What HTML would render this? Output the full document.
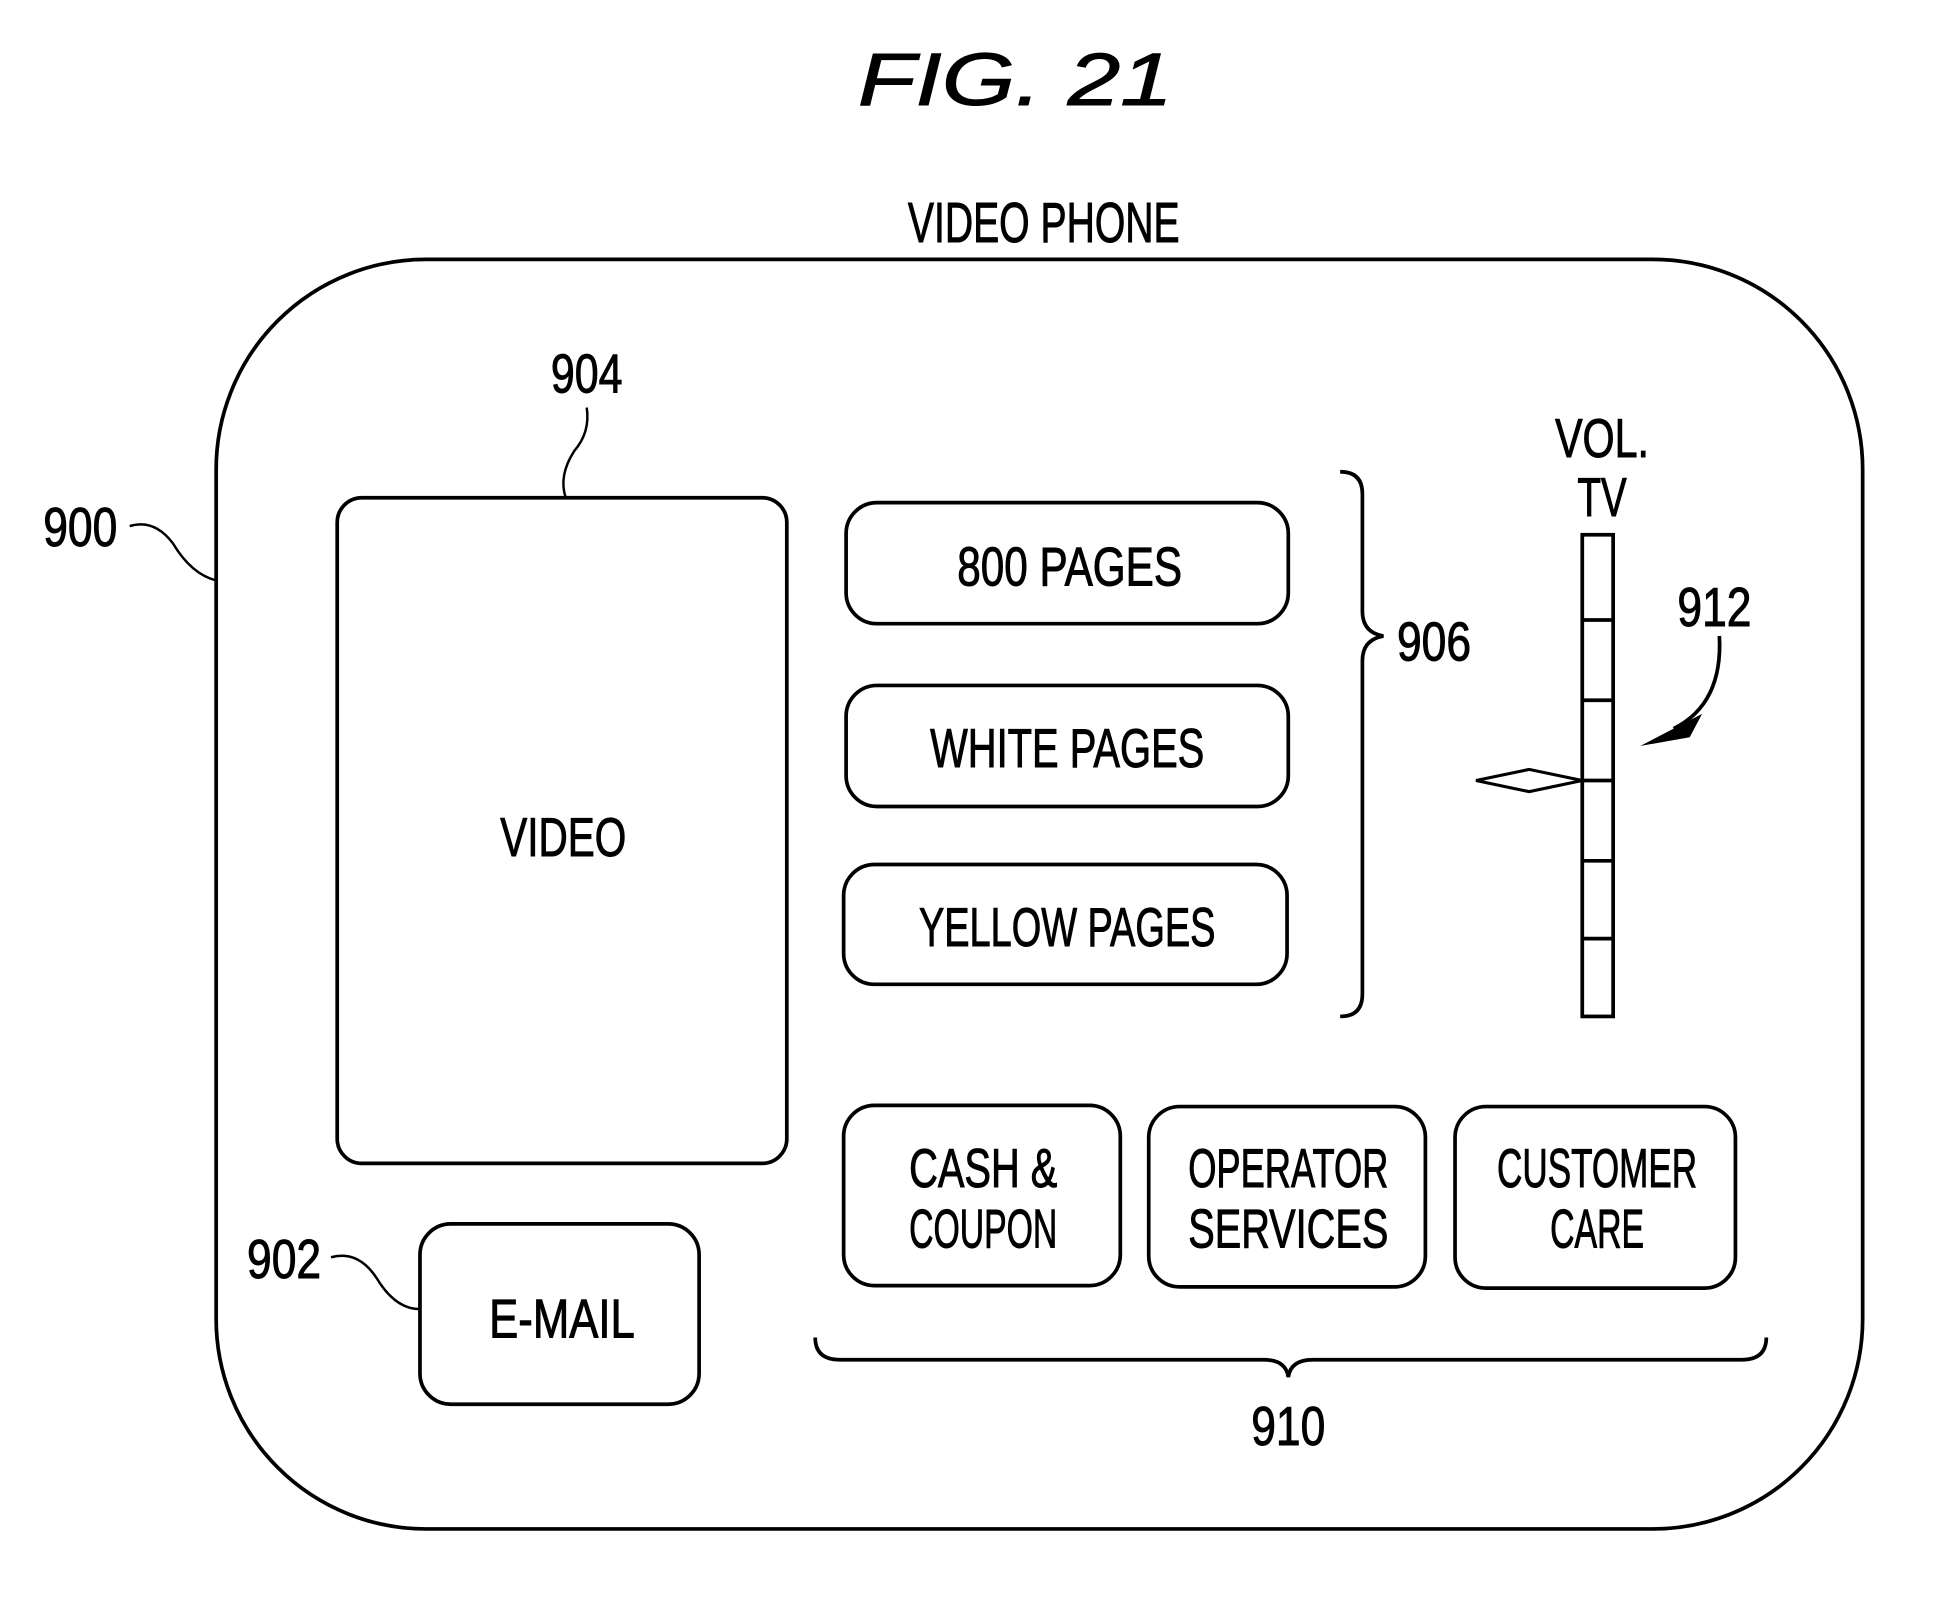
<!DOCTYPE html>
<html><head><meta charset="utf-8"><style>html,body{margin:0;padding:0;background:#fff}svg{display:block}</style></head>
<body>
<svg width="1938" height="1608" viewBox="0 0 1569 1302" preserveAspectRatio="none" xmlns="http://www.w3.org/2000/svg">
<g fill="none" stroke="#000" stroke-width="3">
<rect x="175" y="210" width="1333" height="1028" rx="170" ry="170"/>
<rect x="273" y="403" width="364" height="539" rx="20"/>
<rect x="685" y="407" width="358" height="98" rx="25"/>
<rect x="685" y="555" width="358" height="98" rx="25"/>
<rect x="683" y="700" width="359" height="97" rx="25"/>
<rect x="683" y="895" width="224" height="146" rx="25"/>
<rect x="930" y="896" width="224" height="146" rx="25"/>
<rect x="1178" y="896" width="227" height="147" rx="25"/>
<rect x="340" y="991" width="226" height="146" rx="25"/>
<rect x="1281" y="433" width="25" height="390"/>
<path d="M1281 502H1306M1281 567H1306M1281 632H1306M1281 697H1306M1281 760H1306"/>
<path d="M1195 632L1238 623L1281 632L1238 641Z" stroke-width="2.5"/>
<path d="M1085 382Q1103 382 1103 400V495Q1103 512 1120 515Q1103 518 1103 535V805Q1103 823 1085 823"/>
<path d="M660 1083Q660 1101 680 1101H1023Q1041 1101 1043 1115Q1045 1101 1063 1101H1410Q1430 1101 1430 1083"/>
<path d="M105 426Q125 420 140 440Q155 465 175 470" stroke-width="2"/>
<path d="M475 330Q478 350 465 365Q452 385 458 403" stroke-width="2"/>
<path d="M268 1018Q290 1012 305 1035Q320 1060 340 1060" stroke-width="2"/>
<path d="M1392 515Q1395 570 1355 590" stroke-width="3"/>
</g>
<path d="M1328 604L1378 578L1368 597Z" fill="#000"/>
<g font-family="'Liberation Sans Narrow','Liberation Sans',sans-serif" fill="#000" text-anchor="middle" stroke="#000" stroke-width="0.8">
<text x="822" y="85" font-size="60" font-style="italic" textLength="255" lengthAdjust="spacingAndGlyphs">FIG. 21</text>
<text x="845" y="196" font-size="46" textLength="220" lengthAdjust="spacingAndGlyphs">VIDEO PHONE</text>
<text x="65" y="442" font-size="44" textLength="60" lengthAdjust="spacingAndGlyphs">900</text>
<text x="475" y="318" font-size="44" textLength="58" lengthAdjust="spacingAndGlyphs">904</text>
<text x="456" y="693" font-size="44" textLength="102" lengthAdjust="spacingAndGlyphs">VIDEO</text>
<text x="866" y="474" font-size="44" textLength="182" lengthAdjust="spacingAndGlyphs">800 PAGES</text>
<text x="864" y="621" font-size="44" textLength="222" lengthAdjust="spacingAndGlyphs">WHITE PAGES</text>
<text x="864" y="766" font-size="44" textLength="240" lengthAdjust="spacingAndGlyphs">YELLOW PAGES</text>
<text x="1161" y="535" font-size="44" textLength="60" lengthAdjust="spacingAndGlyphs">906</text>
<text x="1297" y="370" font-size="44" textLength="76" lengthAdjust="spacingAndGlyphs">VOL.</text>
<text x="1297" y="418" font-size="44" textLength="40" lengthAdjust="spacingAndGlyphs">TV</text>
<text x="1388" y="507" font-size="44" textLength="60" lengthAdjust="spacingAndGlyphs">912</text>
<text x="796" y="961" font-size="44" textLength="120" lengthAdjust="spacingAndGlyphs">CASH &amp;</text>
<text x="796" y="1010" font-size="44" textLength="120" lengthAdjust="spacingAndGlyphs">COUPON</text>
<text x="1043" y="961" font-size="44" textLength="162" lengthAdjust="spacingAndGlyphs">OPERATOR</text>
<text x="1043" y="1010" font-size="44" textLength="162" lengthAdjust="spacingAndGlyphs">SERVICES</text>
<text x="1293" y="961" font-size="44" textLength="162" lengthAdjust="spacingAndGlyphs">CUSTOMER</text>
<text x="1293" y="1010" font-size="44" textLength="76" lengthAdjust="spacingAndGlyphs">CARE</text>
<text x="230" y="1035" font-size="44" textLength="60" lengthAdjust="spacingAndGlyphs">902</text>
<text x="455" y="1083" font-size="44" textLength="118" lengthAdjust="spacingAndGlyphs">E-MAIL</text>
<text x="1043" y="1170" font-size="44" textLength="60" lengthAdjust="spacingAndGlyphs">910</text>
</g>
</svg>
</body></html>
